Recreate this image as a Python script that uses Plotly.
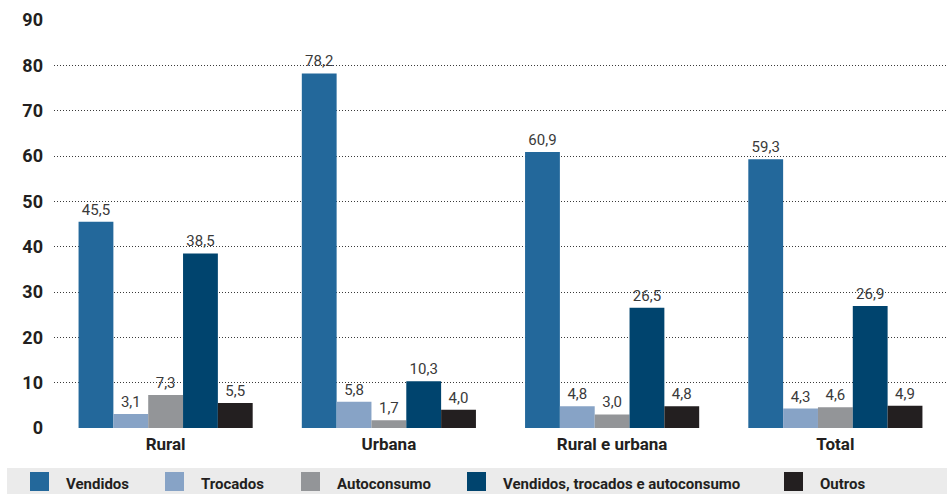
import plotly.graph_objects as go

categories = ["Rural", "Urbana", "Rural e urbana", "Total"]
series_names = ["Vendidos", "Trocados", "Autoconsumo",
                "Vendidos, trocados e autoconsumo", "Outros"]
vendidos = [45.5, 78.2, 60.9, 59.3]
trocados = [3.1, 5.8, 4.8, 4.3]
autoconsumo = [7.3, 1.7, 3.0, 4.6]
vend_troc_auto = [38.5, 10.3, 26.5, 26.9]
outros = [5.5, 4.0, 4.8, 4.9]
y_ticks = [0, 10, 20, 30, 40, 50, 60, 70, 80, 90]

colors = ["#23689b", "#87a3c6", "#939598", "#00446e", "#231f20"]
values = [vendidos, trocados, autoconsumo, vend_troc_auto, outros]

W, H = 947, 494
L, R, T, B = 54, 0, 20, 66
PW, PH = W - L - R, H - T - B
FONT = "Roboto, sans-serif"


def px_x(x):
    return (x - L) / PW


def px_y(y):
    return (H - B - y) / PH


fig = go.Figure()
for name, vals, color in zip(series_names, values, colors):
    fig.add_trace(go.Bar(
        x=categories, y=vals, name=name,
        marker_color=color, marker_line_width=0,
        texttemplate="%{y:.1f}", textposition="outside",
        textfont=dict(family=FONT, size=15, color="#3a3a3a"),
        constraintext="none", cliponaxis=False,
        showlegend=False,
    ))

# legend band drawn by hand to match the grey strip at the bottom
shapes = [dict(type="rect", xref="paper", yref="paper",
               x0=px_x(7), x1=px_x(W), y0=px_y(H), y1=px_y(468),
               fillcolor="#ebebeb", line_width=0, layer="below")]
annotations = []
legend_x = [30, 165, 301, 467, 784]
for name, color, lx in zip(series_names, colors, legend_x):
    shapes.append(dict(type="rect", xref="paper", yref="paper",
                       x0=px_x(lx), x1=px_x(lx + 19),
                       y0=px_y(491), y1=px_y(472),
                       fillcolor=color, line_width=0))
    annotations.append(dict(xref="paper", yref="paper",
                            x=px_x(lx + 34), y=px_y(484),
                            xanchor="left", yanchor="middle", showarrow=False,
                            text=name,
                            font=dict(family=FONT, size=15, weight="bold",
                                      color="#231f20")))

fig.update_layout(
    width=W, height=H,
    margin=dict(l=L, r=R, t=T, b=B),
    plot_bgcolor="white", paper_bgcolor="white",
    barmode="group", bargap=0.22, bargroupgap=0,
    separators=", ",
    shapes=shapes, annotations=annotations,
    font=dict(family=FONT, color="#231f20"),
)
fig.update_xaxes(
    showgrid=False, showline=False, ticks="",
    ticklabelstandoff=4,
    tickfont=dict(family=FONT, size=17, weight="bold", color="#231f20"),
)
fig.update_yaxes(
    range=[0, 90], tickvals=y_ticks,
    showgrid=True, gridcolor="#3a3a3a", griddash="1px,2px", gridwidth=1,
    zeroline=False, showline=False,
    ticklabelstandoff=10,
    tickfont=dict(family=FONT, size=18, weight="bold", color="#231f20"),
)

fig.write_html("out.html", config={"displayModeBar": False},
               post_script="document.body.style.margin='0';")
